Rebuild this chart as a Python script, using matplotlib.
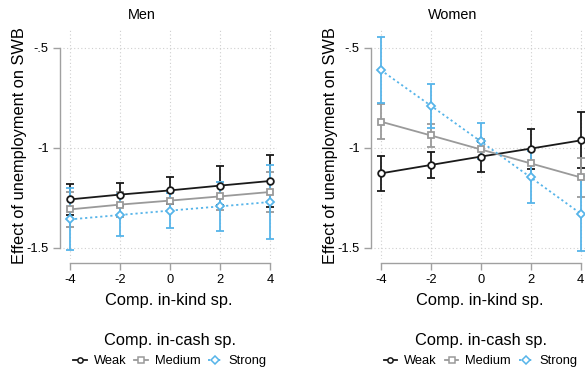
import matplotlib
matplotlib.use("Agg")
import matplotlib.pyplot as plt

plt.rcParams['font.family'] = ['Liberation Sans', 'DejaVu Sans']

x = [-4, -2, 0, 2, 4]
xticklabels = ["-4", "-2", "0", "2", "4"]
yticks = [-0.5, -1.0, -1.5]
yticklabels = ["-.5", "-1", "-1.5"]

panels = ["Men", "Women"]
groups = ["Weak", "Medium", "Strong"]

men_weak = [-1.257, -1.233, -1.212, -1.188, -1.165]
men_weak_ci = [0.078, 0.058, 0.067, 0.096, 0.132]
men_medium = [-1.307, -1.283, -1.263, -1.242, -1.220]
men_medium_ci = [0.086, 0.062, 0.052, 0.070, 0.098]
men_strong = [-1.357, -1.335, -1.313, -1.292, -1.270]
men_strong_ci = [0.155, 0.105, 0.089, 0.122, 0.183]

women_weak = [-1.127, -1.085, -1.043, -1.003, -0.962]
women_weak_ci = [0.086, 0.063, 0.075, 0.100, 0.140]
women_medium = [-0.868, -0.937, -1.007, -1.077, -1.147]
women_medium_ci = [0.089, 0.058, 0.050, 0.068, 0.096]
women_strong = [-0.610, -0.788, -0.967, -1.147, -1.328]
women_strong_ci = [0.163, 0.110, 0.090, 0.130, 0.187]

data = {
    "Men": [(men_weak, men_weak_ci), (men_medium, men_medium_ci), (men_strong, men_strong_ci)],
    "Women": [(women_weak, women_weak_ci), (women_medium, women_medium_ci), (women_strong, women_strong_ci)],
}

colors = ["#1a1a1a", "#9a9a9a", "#56b4e9"]
markers = ["o", "s", "D"]
msizes = [4.8, 4.8, 4.4]
lstyles = ["-", "-", (0, (1.2, 1.6))]
axis_gray = "#a0a0a0"

W, H = 585, 372
fig = plt.figure(figsize=(W / 100, H / 100), dpi=100)
fig.patch.set_facecolor("white")

shift = 310.7
for i, name in enumerate(panels):
    x0 = 63 + i * shift
    x1 = 277 + i * shift
    ax = fig.add_axes([x0 / W, (H - 259) / H, (x1 - x0) / W, (259 - 29) / H])
    ax.set_xlim(-4.28, 4.28)
    ax.set_ylim(-1.555, -0.405)
    ax.set_xticks(x)
    ax.set_xticklabels(xticklabels)
    ax.set_yticks(yticks)
    ax.set_yticklabels(yticklabels)
    ax.grid(True, linestyle=(0, (1, 2.2)), color="#cfcfcf", linewidth=0.8)
    ax.set_axisbelow(True)
    for s in ["top", "right"]:
        ax.spines[s].set_visible(False)
    ax.spines["left"].set_position(("outward", 2.2))
    ax.spines["bottom"].set_position(("outward", 2.9))
    ax.spines["left"].set_bounds(-1.5, -0.5)
    ax.spines["bottom"].set_bounds(-4, 4)
    for s in ["left", "bottom"]:
        ax.spines[s].set_color(axis_gray)
        ax.spines[s].set_linewidth(1.0)
    ax.tick_params(axis="both", colors=axis_gray, labelcolor="black", length=5,
                   width=1.0, labelsize=9.3, pad=3)

    series = data[name]
    for (vals, ci), c in zip(series, colors):
        ax.errorbar(x, vals, yerr=ci, fmt="none", ecolor=c, elinewidth=1.3,
                    capsize=2.6, capthick=1.3, zorder=2)
    handles = []
    for (vals, ci), c, m, ms, ls, g in zip(series, colors, markers, msizes, lstyles, groups):
        h, = ax.plot(x, vals, color=c, linestyle=ls, linewidth=1.3, marker=m,
                     markersize=ms, markerfacecolor="white", markeredgecolor=c,
                     markeredgewidth=1.3, zorder=3, label=g)
        handles.append(h)

    cx = 170 + i * shift
    fig.text((141.7 + i * shift) / W, 1 - 15 / H, name, ha="center", va="center", fontsize=10.4)
    fig.text((20 + i * shift) / W, 1 - 146 / H, "Effect of unemployment on SWB", rotation=90,
             ha="center", va="center", fontsize=11.8)
    fig.text((cx - 1) / W, 1 - 300.7 / H, "Comp. in-kind sp.", ha="center", va="center", fontsize=11.8)
    fig.text(cx / W, 1 - 340.7 / H, "Comp. in-cash sp.", ha="center", va="center", fontsize=11.8)
    leg = ax.legend(handles=handles, loc="center left", bbox_to_anchor=((73 + i * shift) / W, 1 - 361 / H),
                    bbox_transform=fig.transFigure, ncol=3, frameon=False, fontsize=9.3,
                    handlelength=1.05, handletextpad=0.55, columnspacing=0.6, borderpad=0,
                    borderaxespad=0)
    for h in leg.legend_handles:
        h.set_markersize(3.8)
        h.set_markeredgewidth(1.1)

fig.savefig("out.png", dpi=100, facecolor="white")
